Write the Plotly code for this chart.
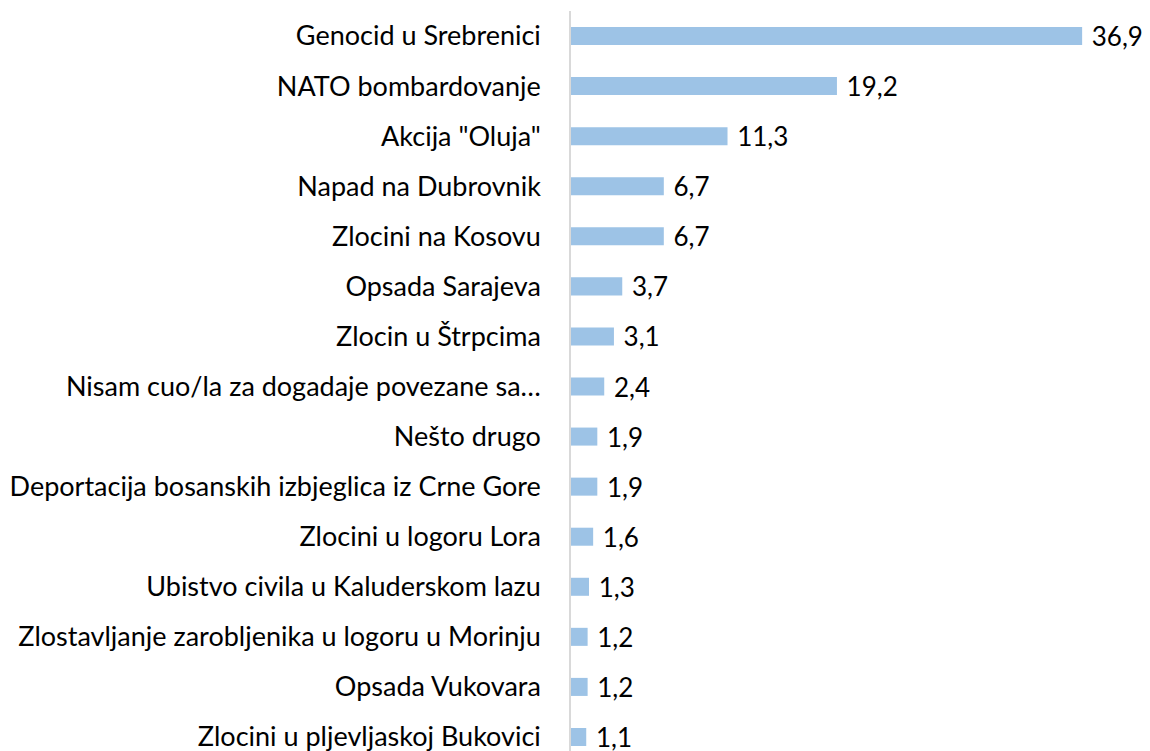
import plotly.graph_objects as go

categories = [
    "Genocid u Srebrenici",
    "NATO bombardovanje",
    "Akcija \"Oluja\"",
    "Napad na Dubrovnik",
    "Zlocini na Kosovu",
    "Opsada Sarajeva",
    "Zlocin u Štrpcima",
    "Nisam cuo/la za dogadaje povezane sa…",
    "Nešto drugo",
    "Deportacija bosanskih izbjeglica iz Crne Gore",
    "Zlocini u logoru Lora",
    "Ubistvo civila u Kaluderskom lazu",
    "Zlostavljanje zarobljenika u logoru u Morinju",
    "Opsada Vukovara",
    "Zlocini u pljevljaskoj Bukovici",
]
values = [36.9, 19.2, 11.3, 6.7, 6.7, 3.7, 3.1, 2.4, 1.9, 1.9, 1.6, 1.3, 1.2, 1.2, 1.1]

FONT = "Lato"

fig = go.Figure(go.Bar(
    x=values,
    y=categories,
    orientation="h",
    marker=dict(color="#9DC3E6", line=dict(width=0)),
    width=0.36,
    texttemplate=" %{x:.1f}",
    textposition="outside",
    constraintext="none",
    textfont=dict(family=FONT, size=26, color="#000000"),
    cliponaxis=False,
))

fig.update_layout(
    width=1142,
    height=743,
    margin=dict(l=563, r=0, t=3, b=0),
    paper_bgcolor="white",
    plot_bgcolor="white",
    separators=", ",
    showlegend=False,
    font=dict(family=FONT, color="#000000"),
    xaxis=dict(range=[0, 41.8], visible=False, showgrid=False, zeroline=False),
    yaxis=dict(
        range=[14.28, -0.5],
        showline=True,
        linecolor="#D9D9D9",
        linewidth=1.5,
        showgrid=False,
        zeroline=False,
        ticks="",
        ticklabelstandoff=23,
        tickfont=dict(family=FONT, size=27, color="#000000"),
        automargin=False,
    ),
)

fig.write_html("out.html")
